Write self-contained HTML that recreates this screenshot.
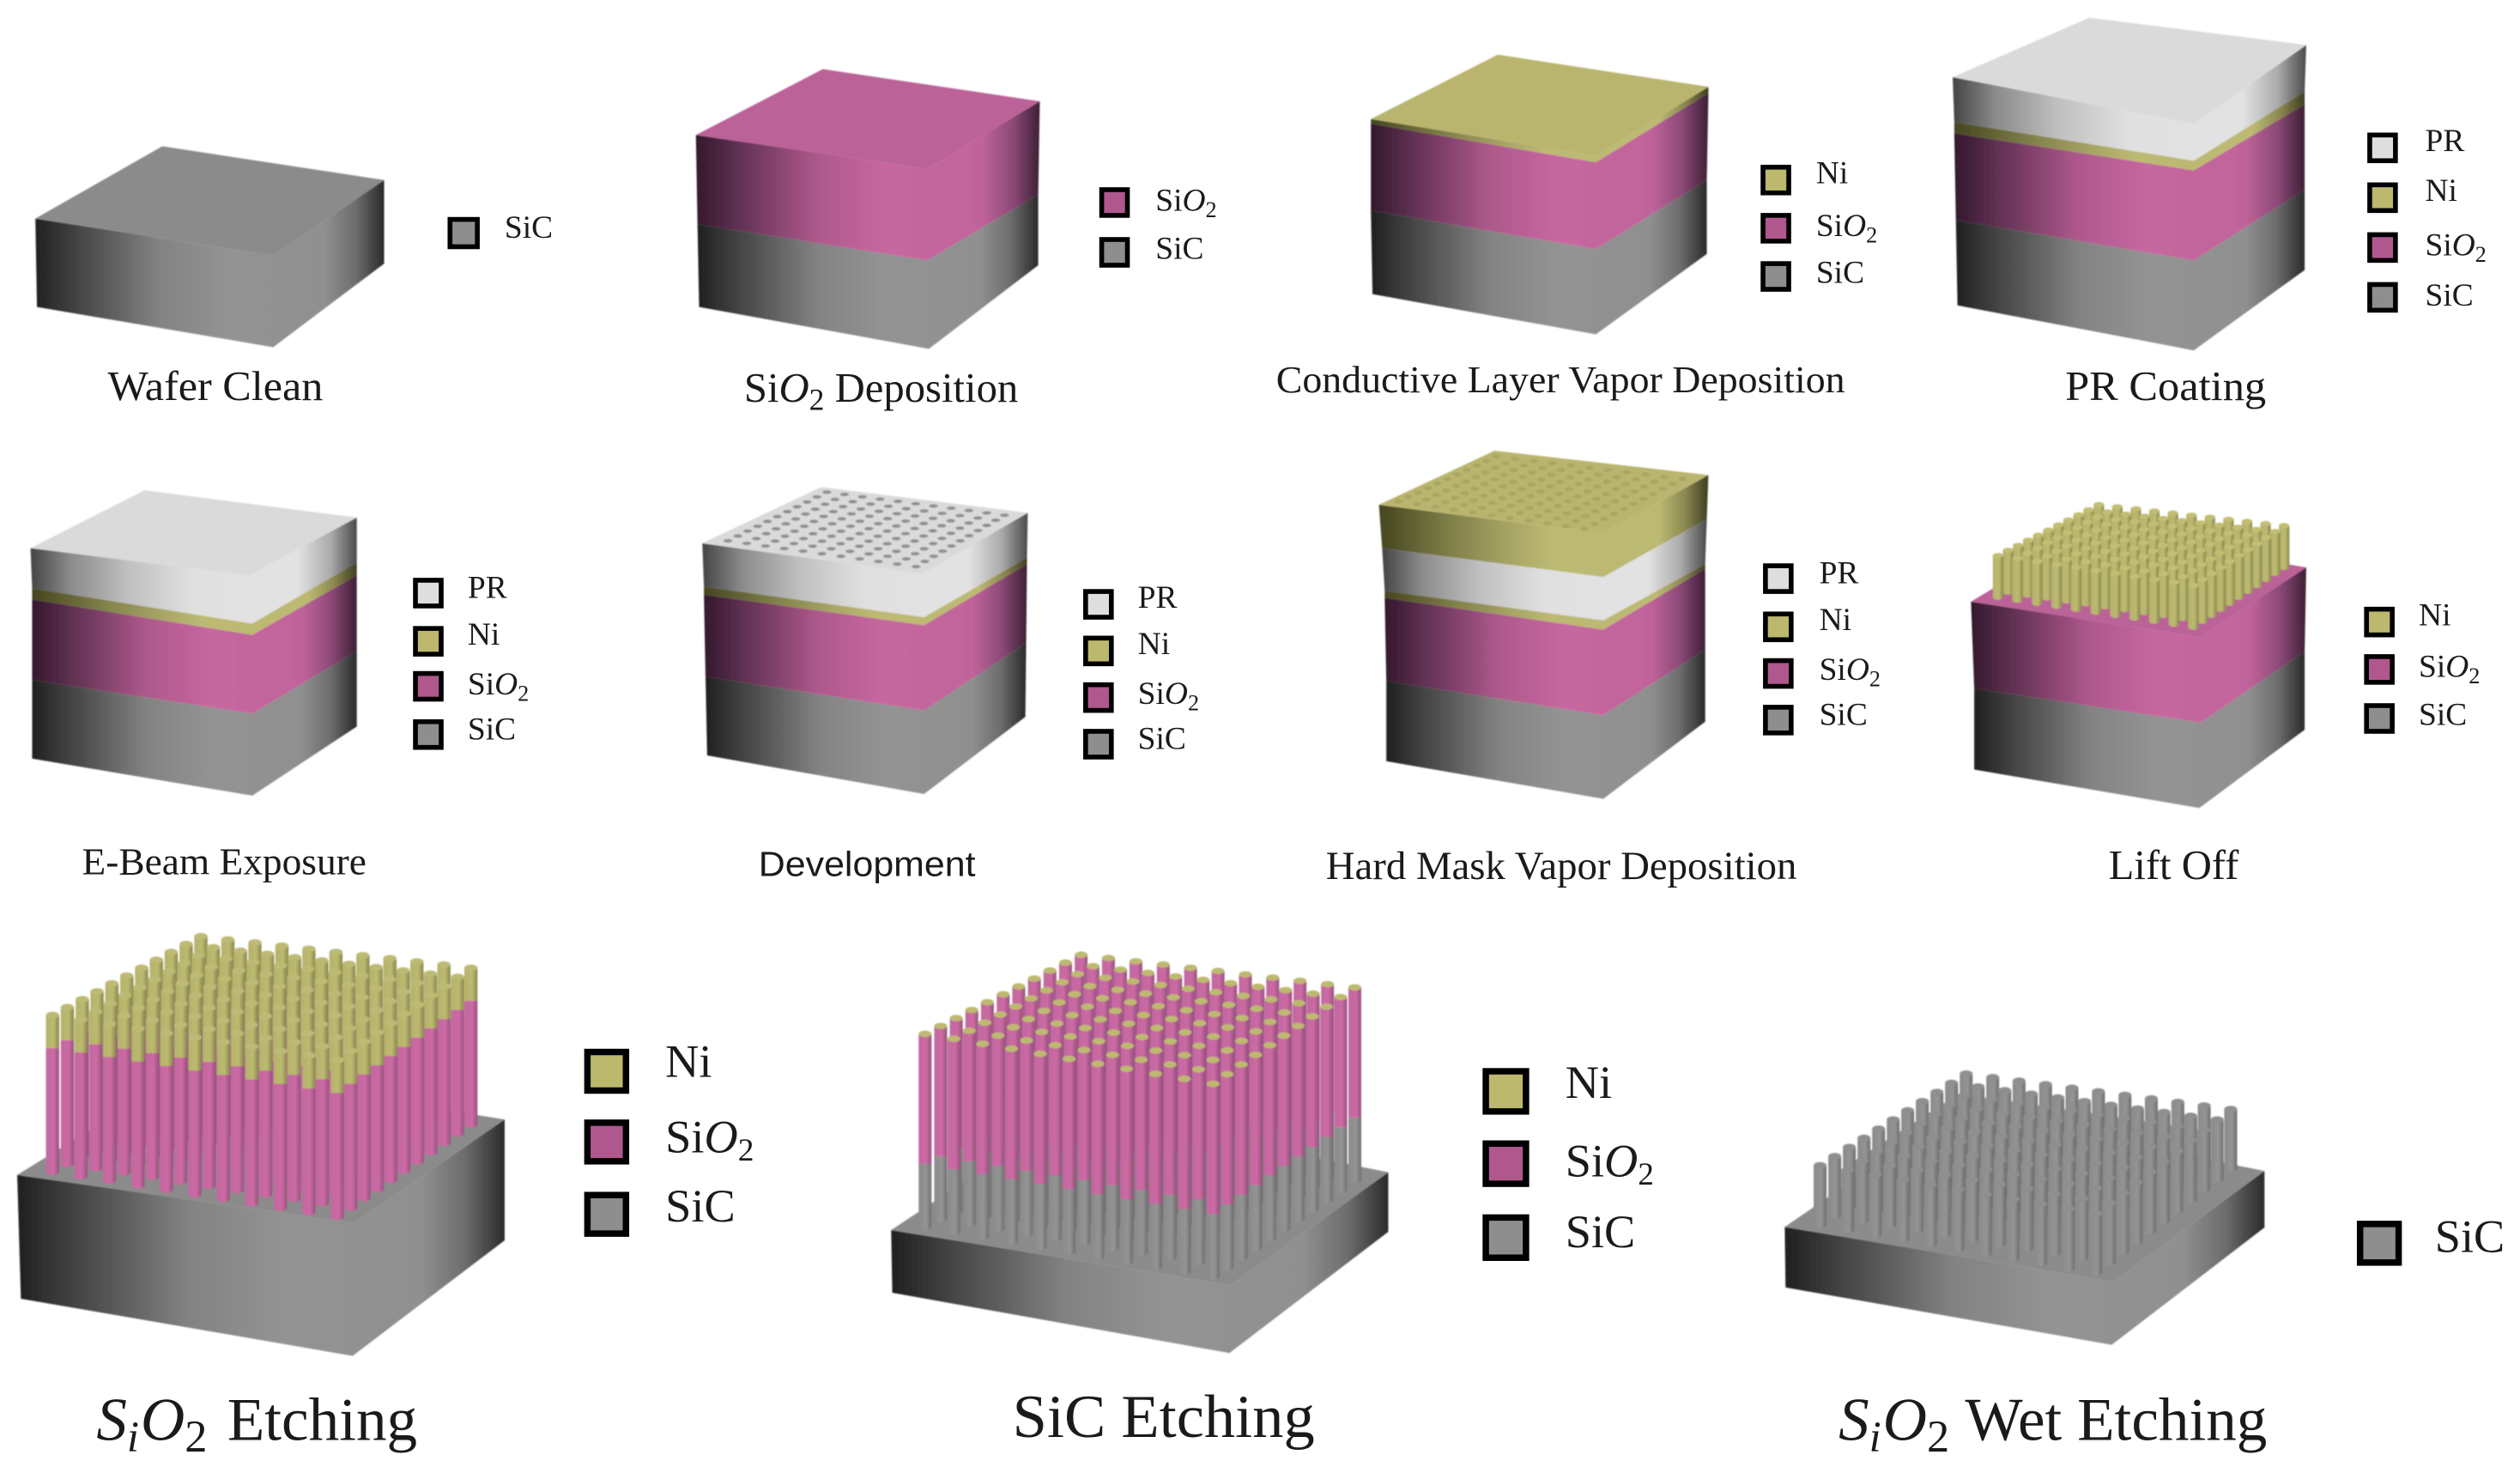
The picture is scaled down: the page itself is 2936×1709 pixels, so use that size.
<!DOCTYPE html>
<html lang="en">
<head>
<meta charset="utf-8">
<title>SiC nanopillar fabrication process flow</title>
<style>
html,body{margin:0;padding:0;background:#fff;}
body{width:2936px;height:1709px;overflow:hidden;}
svg{display:block;}
text{font-family:"Liberation Serif",serif;fill:#1a1a1a;}
.sw{stroke:#000;stroke-width:3;}
.sic{fill:#8e8e8e;}.sio{fill:#b0588e;}.ni{fill:#bcb86e;}.pr{fill:#dedede;}
.lg{font-size:20px;transform:translateY(-1px);}
.lgb{font-size:29px;}
.t{font-size:26px;}
.tb{font-size:38px;}
.i{font-style:italic;}
</style>
</head>
<body>
<svg id="fig" xmlns="http://www.w3.org/2000/svg" width="2936" height="1709" viewBox="0 0 1568 912.7">
<defs>
<filter id="soft" x="-2%" y="-2%" width="104%" height="104%"><feGaussianBlur stdDeviation="0.45"/></filter>
<linearGradient id="g-sic"><stop offset="0" stop-color="#202020"/><stop offset=".12" stop-color="#444"/><stop offset=".35" stop-color="#828282"/><stop offset=".55" stop-color="#939393"/><stop offset=".83" stop-color="#8f8f8f"/><stop offset=".92" stop-color="#6c6c6c"/><stop offset="1" stop-color="#2a2a2a"/></linearGradient>
<linearGradient id="g-sio"><stop offset="0" stop-color="#33182c"/><stop offset=".12" stop-color="#5f3052"/><stop offset=".35" stop-color="#ad588b"/><stop offset=".55" stop-color="#c6679f"/><stop offset=".83" stop-color="#c0649a"/><stop offset=".92" stop-color="#8d4a78"/><stop offset="1" stop-color="#3d2035"/></linearGradient>
<linearGradient id="g-ni"><stop offset="0" stop-color="#45451f"/><stop offset=".22" stop-color="#80804a"/><stop offset=".4" stop-color="#a8a565"/><stop offset=".52" stop-color="#bcb973"/><stop offset=".85" stop-color="#bcb973"/><stop offset=".93" stop-color="#8a8850"/><stop offset="1" stop-color="#3e3e22"/></linearGradient>
<linearGradient id="g-pr"><stop offset="0" stop-color="#444"/><stop offset=".12" stop-color="#8a8a8a"/><stop offset=".3" stop-color="#c0c0c0"/><stop offset=".5" stop-color="#e0e0e0"/><stop offset=".82" stop-color="#e2e2e2"/><stop offset=".92" stop-color="#aaa"/><stop offset="1" stop-color="#4a4a4a"/></linearGradient>
<linearGradient id="p-sic"><stop offset="0" stop-color="#8a8a8a"/><stop offset=".6" stop-color="#949494"/><stop offset="1" stop-color="#6e6e6e"/></linearGradient>
<linearGradient id="p-sio"><stop offset="0" stop-color="#c267a0"/><stop offset=".6" stop-color="#cc6aa3"/><stop offset="1" stop-color="#96507f"/></linearGradient>
<linearGradient id="p-ni"><stop offset="0" stop-color="#b5b26b"/><stop offset=".6" stop-color="#bcb970"/><stop offset="1" stop-color="#88854d"/></linearGradient>
</defs>

<g id="blocks" filter="url(#soft)"></g>

<!-- Step titles -->
<text class="t" x="67" y="249" textLength="134" lengthAdjust="spacingAndGlyphs">Wafer Clean</text>
<text class="t" x="463" y="250">Si<tspan class="i">O</tspan><tspan font-size="19" dy="5">2</tspan><tspan dy="-5"> Deposition</tspan></text>
<text class="t" x="794" y="244" textLength="354" lengthAdjust="spacingAndGlyphs" style="font-size:24px">Conductive Layer Vapor Deposition</text>
<text class="t" x="1285" y="249" textLength="125" lengthAdjust="spacingAndGlyphs">PR Coating</text>
<text class="t" x="51" y="544" textLength="177" lengthAdjust="spacingAndGlyphs" style="font-size:24px">E-Beam Exposure</text>
<text x="472" y="545" textLength="135" lengthAdjust="spacingAndGlyphs" style="font-family:'Liberation Sans',sans-serif;font-size:22px">Development</text>
<text class="t" x="825" y="547" textLength="293" lengthAdjust="spacingAndGlyphs" style="font-size:25px">Hard Mask Vapor Deposition</text>
<text class="t" x="1312" y="547" textLength="81" lengthAdjust="spacingAndGlyphs">Lift Off</text>
<text class="tb" x="60" y="896"><tspan class="i">S</tspan><tspan class="i" font-size="27" dy="7">i</tspan><tspan class="i" dy="-7" dx="1">O</tspan><tspan font-size="28" dy="7">2</tspan><tspan dy="-7" dx="3"> Etching</tspan></text>
<text class="tb" x="630" y="894" textLength="188" lengthAdjust="spacingAndGlyphs">SiC Etching</text>
<text class="tb" x="1144" y="896"><tspan class="i">S</tspan><tspan class="i" font-size="27" dy="7">i</tspan><tspan class="i" dy="-7" dx="1">O</tspan><tspan font-size="28" dy="7">2</tspan><tspan dy="-7" dx="1"> Wet Etching</tspan></text>

<!-- Legend 1 -->
<g>
<rect class="sw sic" x="280" y="136.5" width="17" height="17"/>
<text class="lg" x="314" y="149">SiC</text>
</g>
<!-- Legend 2 -->
<g>
<rect class="sw sio" x="685.5" y="118" width="16" height="16"/>
<text class="lg" x="719" y="132">Si<tspan class="i">O</tspan><tspan font-size="14" dy="4">2</tspan></text>
<rect class="sw sic" x="685.5" y="149" width="16" height="16"/>
<text class="lg" x="719" y="162">SiC</text>
</g>
<!-- Legend 3 -->
<g>
<rect class="sw ni" x="1097" y="104" width="16" height="16"/>
<text class="lg" x="1130" y="115">Ni</text>
<rect class="sw sio" x="1097" y="134" width="16" height="16"/>
<text class="lg" x="1130" y="148">Si<tspan class="i">O</tspan><tspan font-size="14" dy="4">2</tspan></text>
<rect class="sw sic" x="1097" y="164" width="16" height="16"/>
<text class="lg" x="1130" y="177">SiC</text>
</g>
<!-- Legend 4 -->
<g>
<rect class="sw pr" x="1474.5" y="84" width="16" height="16"/>
<text class="lg" x="1509" y="95">PR</text>
<rect class="sw ni" x="1474.5" y="115" width="16" height="16"/>
<text class="lg" x="1509" y="126">Ni</text>
<rect class="sw sio" x="1474.5" y="146" width="16" height="16"/>
<text class="lg" x="1509" y="160">Si<tspan class="i">O</tspan><tspan font-size="14" dy="4">2</tspan></text>
<rect class="sw sic" x="1474.5" y="177" width="16" height="16"/>
<text class="lg" x="1509" y="191">SiC</text>
</g>
<!-- Legend 5 -->
<g>
<rect class="sw pr" x="258.5" y="361" width="16" height="16"/>
<text class="lg" x="291" y="373">PR</text>
<rect class="sw ni" x="258.5" y="391" width="16" height="16"/>
<text class="lg" x="291" y="402">Ni</text>
<rect class="sw sio" x="258.5" y="419" width="16" height="16"/>
<text class="lg" x="291" y="433">Si<tspan class="i">O</tspan><tspan font-size="14" dy="4">2</tspan></text>
<rect class="sw sic" x="258.5" y="449" width="16" height="16"/>
<text class="lg" x="291" y="461">SiC</text>
</g>
<!-- Legend 6 -->
<g>
<rect class="sw pr" x="675.5" y="368" width="16" height="16"/>
<text class="lg" x="708" y="379">PR</text>
<rect class="sw ni" x="675.5" y="397" width="16" height="16"/>
<text class="lg" x="708" y="408">Ni</text>
<rect class="sw sio" x="675.5" y="426" width="16" height="16"/>
<text class="lg" x="708" y="439">Si<tspan class="i">O</tspan><tspan font-size="14" dy="4">2</tspan></text>
<rect class="sw sic" x="675.5" y="455" width="16" height="16"/>
<text class="lg" x="708" y="467">SiC</text>
</g>
<!-- Legend 7 -->
<g>
<rect class="sw pr" x="1098.5" y="352" width="16" height="16"/>
<text class="lg" x="1132" y="364">PR</text>
<rect class="sw ni" x="1098.5" y="382" width="16" height="16"/>
<text class="lg" x="1132" y="393">Ni</text>
<rect class="sw sio" x="1098.5" y="411" width="16" height="16"/>
<text class="lg" x="1132" y="424">Si<tspan class="i">O</tspan><tspan font-size="14" dy="4">2</tspan></text>
<rect class="sw sic" x="1098.5" y="440" width="16" height="16"/>
<text class="lg" x="1132" y="452">SiC</text>
</g>
<!-- Legend 8 -->
<g>
<rect class="sw ni" x="1472.5" y="379" width="16" height="16"/>
<text class="lg" x="1505" y="390">Ni</text>
<rect class="sw sio" x="1472.5" y="408.5" width="16" height="16"/>
<text class="lg" x="1505" y="422">Si<tspan class="i">O</tspan><tspan font-size="14" dy="4">2</tspan></text>
<rect class="sw sic" x="1472.5" y="439" width="16" height="16"/>
<text class="lg" x="1505" y="452">SiC</text>
</g>
<!-- Legend 9 -->
<g>
<rect class="sw ni" x="365.5" y="654.5" width="24" height="24" style="stroke-width:4"/>
<text class="lgb" x="414" y="670">Ni</text>
<rect class="sw sio" x="365.5" y="698.5" width="24" height="24" style="stroke-width:4"/>
<text class="lgb" x="414" y="717">Si<tspan class="i">O</tspan><tspan font-size="20" dy="5">2</tspan></text>
<rect class="sw sic" x="365.5" y="743.5" width="24" height="24" style="stroke-width:4"/>
<text class="lgb" x="414" y="760">SiC</text>
</g>
<!-- Legend 10 -->
<g>
<rect class="sw ni" x="924.5" y="666.5" width="25" height="25" style="stroke-width:4"/>
<text class="lgb" x="974" y="683">Ni</text>
<rect class="sw sio" x="924.5" y="711.5" width="25" height="25" style="stroke-width:4"/>
<text class="lgb" x="974" y="732">Si<tspan class="i">O</tspan><tspan font-size="20" dy="5">2</tspan></text>
<rect class="sw sic" x="924.5" y="757.5" width="25" height="25" style="stroke-width:4"/>
<text class="lgb" x="974" y="776">SiC</text>
</g>
<!-- Legend 11 -->
<g>
<rect class="sw sic" x="1468.5" y="761.5" width="24" height="24" style="stroke-width:4"/>
<text class="lgb" x="1515" y="779">SiC</text>
</g>
</svg>

<script>
var NS = 'http://www.w3.org/2000/svg';
var host = document.getElementById('blocks');

var faceFill = {sic:'url(#g-sic)', sio:'url(#g-sio)', ni:'url(#g-ni)', pr:'url(#g-pr)'};
var topFill = {sic:'#8b8b8b', sio:'#bb6298', ni:'#b9b56e', pr:'#dadada'};

// Blocks: top face corners [L,B,R,F], layer boundaries [Lx,Ly,Fx,Fy,Rx,Ry], layer materials top to bottom.
var blocks = [
 {name:'wafer-clean-block', top:[[22,136],[101,91],[239,112],[170,159]], mats:['sic'], levels:[[22,136,170,159,239,112],[23,191,170,216,239,164]]},
 {name:'sio2-deposition-block', top:[[433,84],[512,43],[647,63],[577,105]], mats:['sio','sic'], levels:[[433,84,577,105,647,63],[434,139.5,577,162,646,121],[435,191,578,217,646,165]]},
 {name:'conductive-layer-block', top:[[853,74],[932,34],[1063,54],[993,97]], mats:['ni','sio','sic'], levels:[[853,74,993,97,1063,54],[853,77,993,101,1063,58],[853,131,993,155,1062,112],[854,183,993,208,1062,158]]},
 {name:'pr-coating-block', top:[[1215,48],[1300,11],[1435,28],[1365,77]], mats:['pr','ni','sio','sic'], levels:[[1215,48,1365,77,1435,28],[1216,76,1365,100,1434,57],[1216,83,1365,106,1434,65],[1217,137,1365,162,1434,118],[1218,190,1365,218,1434,168]]},
 {name:'e-beam-exposure-block', top:[[19,341],[90,305],[222,322],[155,358]], mats:['pr','ni','sio','sic'], levels:[[19,341,155,358,222,322],[20,366,157,388,222,350],[20,373,157,395,222,358],[20,423,157,444,222,405],[20,472,157,495,222,452]]},
 {name:'development-block', top:[[437,338],[511,303],[639.5,319],[574,357]], mats:['pr','ni','sio','sic'], levels:[[437,338,574,357,639.5,319],[438,365,575,384,639,347],[438,370,575,389,639,351],[439,421,575,442,638.5,400],[440,470,575,494,638,446]]},
 {name:'hard-mask-block', top:[[858,314],[930,280.4],[1063,295.5],[997,332]], mats:['ni','pr','ni','sio','sic'], levels:[[858,314,997,332,1063,295.5],[860,341,997.6,359,1062,323],[861.6,367.6,997.6,386,1061,351],[861.6,372,997.6,391.7,1061,354],[862.6,423.7,997.6,445,1061,404],[862.6,473.6,997.6,497,1061,449]]},
 {name:'lift-off-block', top:[[1226.4,374.3],[1300,330],[1435,353],[1369,396.4]], mats:['sio','sic'], levels:[[1226.4,374.3,1369,396.4,1435,353],[1228.4,428.3,1369.3,449.6,1434,405.3],[1228.4,478.8,1368.5,502.7,1434,454]]},
 {name:'sio2-etching-base', top:[[10.7,731],[118,665],[314,696.5],[220,761]], mats:['sic'], levels:[[10.7,731,220,761,314,696.5],[13,808,219.4,843.6,314,771.7]]},
 {name:'sic-etching-base', top:[[554.5,765.3],[668,690],[863.8,729.3],[765.7,799.6]], mats:['sic'], levels:[[554.5,765.3,765.7,799.6,863.8,729.3],[555.2,804.3,765,841.8,863.8,766.4]]},
 {name:'wet-etching-base', top:[[1110.5,763.4],[1217,690],[1409,728.5],[1315,797.5]], mats:['sic'], levels:[[1110.5,763.4,1315,797.5,1409,728.5],[1111,801,1314,836.7,1409,763.7]]}
];

// Hole / dot grids on top faces: corners [L,F,R,B]
var gridCount = 11;
var dotGrids = [
 {name:'development-holes', corners:[[452.9,336.5],[570,352.5],[625,320.5],[514.5,306.2]], fill:'#909090', rx:2.8, ry:1.1},
 {name:'hard-mask-dots', corners:[[870,312],[986,329],[1047,298],[931,284]], fill:'#a9a564', rx:2.6, ry:1.3}
];

// Pillar arrays: base corners [L,F,R,B], layers bottom to top with heights.
var pillarSets = [
 {name:'lift-off-pillars', w:6.5, base:[[1243.2,371.6],[1364.8,390.2],[1421.2,353],[1305.9,340]], mats:['ni'], heights:[26], cap:'#c2be72'},
 {name:'sio2-etching-pillars', w:8.2, base:[[32.7,729],[209.9,757],[293,699.6],[125,680]], mats:['sio','ni'], heights:[77,20.5], cap:'#bdba75'},
 {name:'sic-etching-pillars', w:8, base:[[575.6,763.2],[754.8,794.3],[843,734.3],[672.7,714]], mats:['sic','sio'], heights:[39,81], cap:'#bdb96f'},
 {name:'wet-etching-pillars', w:8, base:[[1132.5,762],[1304,792],[1388,727],[1223.4,705]], mats:['sic'], heights:[37], cap:'#8f8f8f'}
];

function make(tag, attrs, parent){
  var el = document.createElementNS(NS, tag);
  for (var k in attrs) el.setAttribute(k, attrs[k]);
  parent.appendChild(el);
  return el;
}
function bil(c, u, v){
  var a=(1-u)*(1-v), b=u*(1-v), d=u*v, e=(1-u)*v;
  return [c[0][0]*a+c[1][0]*b+c[2][0]*d+c[3][0]*e, c[0][1]*a+c[1][1]*b+c[2][1]*d+c[3][1]*e];
}

blocks.forEach(function(b){
  var g = make('g', {}, host);
  
  
  b.mats.forEach(function(m, i){
    var t = b.levels[i], s = b.levels[i+1];
    var pts = [t[0],t[1],t[2],t[3],t[4],t[5],s[4],s[5],s[2],s[3],s[0],s[1]].join(' ');
    var p = make('polygon', {points:pts, fill:faceFill[m]}, g);
    
    
  });
  var top = make('polygon', {points:b.top.map(function(q){return q.join(',');}).join(' '), fill:topFill[b.mats[0]]}, g);
  
  
});

dotGrids.forEach(function(d){
  var g = make('g', {fill:d.fill}, host);
  
  
  for (var i=0;i<gridCount;i++) for (var j=0;j<gridCount;j++){
    var p = bil(d.corners, i/(gridCount-1), j/(gridCount-1));
    make('ellipse', {cx:p[0].toFixed(1), cy:p[1].toFixed(1), rx:d.rx, ry:d.ry}, g);
  }
});

pillarSets.forEach(function(s){
  var g = make('g', {}, host);
  
  
  var list = [];
  for (var i=0;i<gridCount;i++) for (var j=0;j<gridCount;j++){
    list.push(bil(s.base, i/(gridCount-1), j/(gridCount-1)));
  }
  list.sort(function(a,b){return a[1]-b[1];});
  var r = s.w/2, ry = r*0.5;
  list.forEach(function(p){
    var x = p[0]-r, y = p[1];
    make('ellipse', {cx:p[0].toFixed(1), cy:y.toFixed(1), rx:r, ry:ry, fill:'url(#p-'+s.mats[0]+')'}, g);
    s.mats.forEach(function(m, k){
      var h = s.heights[k];
      y -= h;
      make('rect', {x:x.toFixed(1), y:y.toFixed(1), width:s.w, height:h, fill:'url(#p-'+m+')'}, g);
    });
    make('ellipse', {cx:p[0].toFixed(1), cy:y.toFixed(1), rx:r, ry:ry, fill:s.cap}, g);
  });
});
</script>
</body>
</html>
